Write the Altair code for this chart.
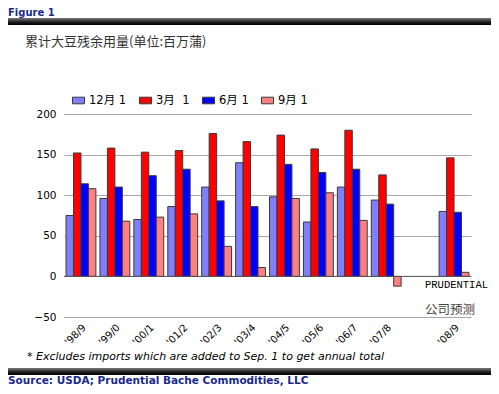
import altair as alt
import pandas as pd

seasons = ["'98/9", "'99/0", "'00/1", "'01/2", "'02/3", "'03/4", "'04/5",
           "'05/6", "'06/7", "'07/8", "'08/9"]
axis_domain = seasons[:10] + ["gap"] + seasons[10:]
series = ["12月 1", "3月\u00a0\u00a01", "6月 1", "9月 1"]
colors = ["#8080FF", "#FF0000", "#0000FF", "#FF8080"]

dec1 = [75, 96, 70, 86, 110, 140, 98, 67, 110, 94, 80]
mar1 = [152, 158, 153, 155, 176, 166, 174, 157, 180, 125, 146]
jun1 = [114, 110, 124, 132, 93, 86, 138, 128, 132, 89, 79]
sep1 = [108, 68, 73, 77, 37, 11, 96, 103, 69, -12, 5]

rows = []
for name, vals in zip(series, [dec1, mar1, jun1, sep1]):
    for s, v in zip(seasons, vals):
        rows.append({"season": s, "series": name, "value": v})
df = pd.DataFrame(rows)

CJK = "DejaVu Sans, Noto Sans CJK SC"

bars = alt.Chart(df).mark_bar(stroke="#3a3a3a", strokeWidth=1).encode(
    x=alt.X("season:N", sort=axis_domain,
            scale=alt.Scale(domain=axis_domain, paddingInner=0.12, paddingOuter=0.06),
            axis=alt.Axis(title=None, labelAngle=-45, domain=False, ticks=False,
                          labelExpr="datum.value == 'gap' ? '' : datum.value",
                          labelFont="DejaVu Sans", labelFontSize=10, labelColor="#000",
                          labelPadding=5, grid=False)),
    xOffset=alt.XOffset("series:N", sort=series, scale=alt.Scale(paddingInner=0, paddingOuter=0)),
    y=alt.Y("value:Q", scale=alt.Scale(domain=[-50, 200], nice=False),
            axis=alt.Axis(title=None, values=[-50, 0, 50, 100, 150, 200], domain=False,
                          ticks=False, grid=True, gridColor="#a8a8a8", gridWidth=1,
                          labelFont="DejaVu Sans", labelFontSize=10.5, labelColor="#000",
                          labelPadding=8)),
    fill=alt.Fill("series:N", sort=series,
                  scale=alt.Scale(domain=series, range=colors),
                  legend=alt.Legend(orient="none", legendX=8, legendY=-20, direction="horizontal",
                                    title=None, symbolType="M-1,-0.55H1V0.55H-1Z", symbolSize=144,
                                    symbolStrokeColor="#3a3a3a", symbolStrokeWidth=1,
                                    labelFont=CJK, labelFontSize=11.5, labelColor="#000",
                                    columnPadding=10, labelOffset=4, padding=0)),
)

zero = alt.Chart(pd.DataFrame({"y": [0]})).mark_rule(color="#555", strokeWidth=1).encode(
    y="y:Q")

def txt(s, x, y, baseline="middle", **kw):
    return alt.Chart(pd.DataFrame({"t": [s]})).mark_text(align="left", baseline=baseline, **kw).encode(
        text="t:N", x=alt.value(x), y=alt.value(y))

def bar(y1, y2):
    grad = alt.LinearGradient(gradient="linear", x1=0, x2=0, y1=0, y2=1,
                              stops=[alt.GradientStop(color="#7a7a7a", offset=0),
                                     alt.GradientStop(color="#1a1a1a", offset=0.6),
                                     alt.GradientStop(color="#000000", offset=1)])
    return alt.Chart(pd.DataFrame({"a": [0]})).mark_rect(fill=grad).encode(
        x=alt.value(-56), x2=alt.value(427), y=alt.value(y1), y2=alt.value(y2))

layers = [
    bars, zero,
    bar(-96, -89), bar(254, 261),
    txt("Figure 1", -56, -106, baseline="top", font="DejaVu Sans", fontSize=10, fontWeight="bold", color="#1b2a8c"),
    txt("累计大豆残余用量(单位:百万蒲)", -39, -72, font="Noto Sans CJK SC", fontSize=13, color="#333"),
    txt("PRUDENTIAL", 361, 171, font="Liberation Mono", fontSize=10.5, color="#000"),
    txt("公司预测", 361, 196, font="Noto Sans CJK SC", fontSize=12.5, color="#444"),
    txt("* Excludes imports which are added to Sep. 1 to get annual total", -37, 243,
        font="DejaVu Sans", fontSize=11, fontStyle="italic", color="#000"),
    txt("Source: USDA; Prudential Bache Commodities, LLC", -56, 267,
        font="DejaVu Sans", fontSize=10.5, fontWeight="bold", color="#1b2a8c"),
]

chart = alt.layer(*layers).properties(
    width=407, height=203,
    padding={"left": 56, "top": 106, "right": 20, "bottom": 69},
    autosize=alt.AutoSizeParams(type="none"),
    background="white",
).configure_view(stroke=None)

chart.save("out.html", embed_options={"renderer": "svg", "actions": False})
